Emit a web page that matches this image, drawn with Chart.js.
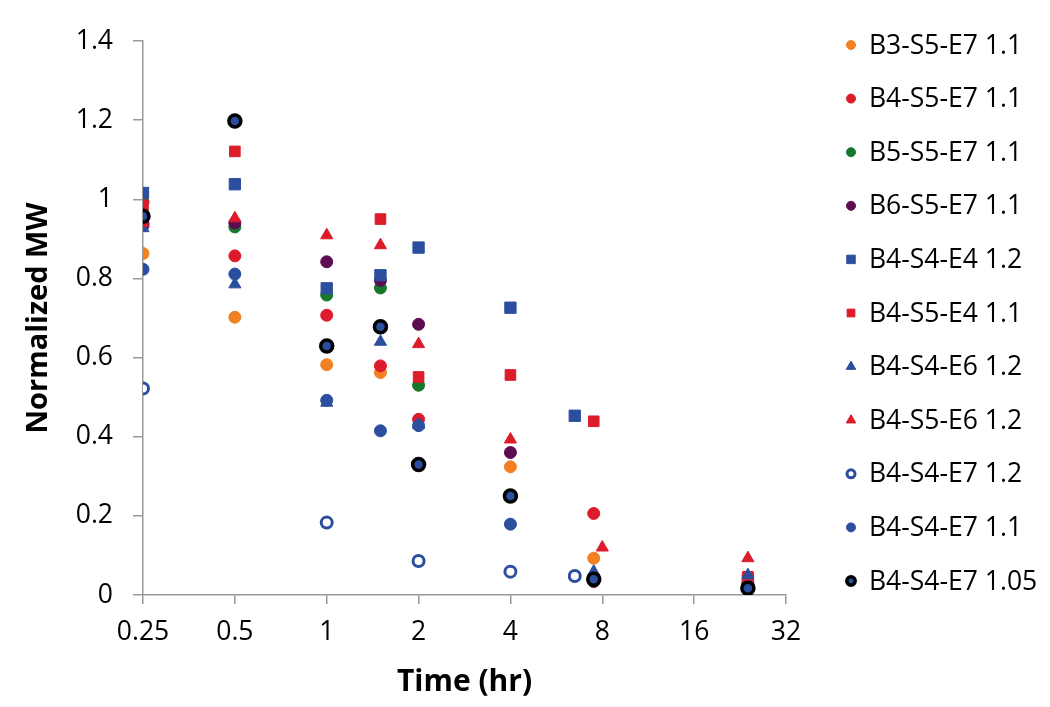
<!DOCTYPE html>
<html>
<head>
<meta charset="utf-8">
<script src="https://cdn.jsdelivr.net/npm/chart.js@4/dist/chart.umd.min.js"></script>
<style>
  html, body { margin: 0; background: #fff; }
  #wrap { width: 1050px; height: 707px; }
</style>
</head>
<body>
<div id="wrap"><canvas id="chart"></canvas></div>
<script>
// Time points (hr); most series share the first list
const timeTicks = [0.25, 0.5, 1, 2, 4, 8, 16, 32]
const times = [0.25, 0.5, 1, 1.5, 2, 4, 7.5, 24]
const timesE4 = [0.25, 0.5, 1, 1.5, 2, 4, 6.5, 24]
const timesE6 = [0.25, 0.5, 1, 1.5, 2, 4, 8, 24]
const timesHollow = [0.25, 1, 2, 4, 6.5]

const seriesNames = [
  'B3-S5-E7 1.1', 'B4-S5-E7 1.1', 'B5-S5-E7 1.1', 'B6-S5-E7 1.1',
  'B4-S4-E4 1.2', 'B4-S5-E4 1.1', 'B4-S4-E6 1.2', 'B4-S5-E6 1.2',
  'B4-S4-E7 1.2', 'B4-S4-E7 1.1', 'B4-S4-E7 1.05'
]

// Normalized MW (null = no point)
const b3s5e7 = [0.863, 0.702, 0.582, 0.562, null, 0.324, 0.093, null]
const b4s5e7 = [0.940, 0.857, 0.707, 0.579, 0.444, null, 0.206, 0.030]
const b5s5e7 = [0.993, 0.930, 0.758, 0.776, 0.530, 0.250, 0.040, 0.025]
const b6s5e7 = [0.934, 0.940, 0.842, 0.795, 0.684, 0.360, 0.034, 0.025]
const b4s4e4 = [1.016, 1.038, 0.775, 0.808, 0.878, 0.726, 0.453, 0.040]
const b4s5e4 = [0.985, 1.121, null, 0.950, 0.551, 0.556, 0.439, 0.046]
const b4s4e6 = [0.927, 0.785, 0.486, 0.640, 0.430, 0.250, 0.059, 0.050]
const b4s5e6 = [0.940, 0.952, 0.909, 0.884, 0.634, 0.393, 0.120, 0.093]
const b4s4e7a = [0.522, 0.183, 0.086, 0.059, 0.048]
const b4s4e7b = [0.823, 0.811, 0.492, 0.415, 0.428, 0.179, 0.045, 0.020]
const b4s4e7c = [0.957, 1.198, 0.629, 0.678, 0.330, 0.250, 0.040, 0.017]

const orange = '#f28123'
const red = '#dc1c2b'
const green = '#17782d'
const purple = '#5e0c52'
const blue = '#2b4f9e'

const fontFamily = '"Open Sans", "Liberation Sans", sans-serif'

function points (xs, ys) {
  const out = []
  xs.forEach((x, i) => {
    if (ys[i] !== null) out.push({ x: x, y: ys[i] })
  })
  return out
}

const seriesData = [
  points(times, b3s5e7), points(times, b4s5e7), points(times, b5s5e7),
  points(times, b6s5e7), points(timesE4, b4s4e4), points(times, b4s5e4),
  points(times, b4s4e6), points(timesE6, b4s5e6), points(timesHollow, b4s4e7a),
  points(times, b4s4e7b), points(times, b4s4e7c)
]

// marker look per series: [style, fill, border, borderWidth, radius, legend radius]
const looks = [
  ['circle', orange, orange, 1, 6, 4.5],
  ['circle', red, red, 1, 6, 4.5],
  ['circle', green, green, 1, 6, 4.5],
  ['circle', purple, purple, 1, 6, 4.5],
  ['rect', blue, blue, 1, 8, 6],
  ['rect', red, red, 1, 7.5, 5.5],
  ['triangle', blue, blue, 1, 7, 5.5],
  ['triangle', red, red, 1, 7, 5.5],
  ['circle', '#ffffff', blue, 3, 5.5, 4],
  ['circle', blue, blue, 1, 6, 4.5],
  ['circle', blue, '#000000', 3.5, 6, 4.2]
]

const datasets = seriesNames.map((name, i) => {
  const l = looks[i]
  return {
    label: name,
    data: seriesData[i],
    showLine: false,
    pointStyle: l[0],
    backgroundColor: l[1],
    borderColor: l[2],
    borderWidth: l[3],
    pointRadius: l[4],
    pointHoverRadius: l[4],
    legendRadius: l[5],
    order: seriesNames.length - i   // later series drawn on top, like the original
  }
})

// legend drawn at the right, one row per series
const sideLegend = {
  id: 'sideLegend',
  afterDraw (chart) {
    const ctx = chart.ctx
    const top = 45
    const step = 53.6
    ctx.save()
    ctx.font = '26.5px ' + fontFamily
    ctx.textBaseline = 'middle'
    ctx.textAlign = 'left'
    chart.data.datasets.forEach((ds, i) => {
      const y = top + i * step
      ctx.fillStyle = ds.backgroundColor
      ctx.strokeStyle = ds.borderColor
      ctx.lineWidth = ds.borderWidth
      Chart.helpers.drawPoint(ctx, {
        pointStyle: ds.pointStyle,
        radius: ds.legendRadius,
        borderWidth: ds.borderWidth,
        rotation: 0
      }, 851, y)
      ctx.fillStyle = '#000'
      ctx.fillText(ds.label, 869, y + 1)
    })
    ctx.restore()
  }
}

const axisColor = '#9a9a9a'

new Chart(document.getElementById('chart'), {
  type: 'scatter',
  data: { datasets: datasets },
  plugins: [sideLegend],
  options: {
    responsive: true,
    maintainAspectRatio: false,
    animation: false,
    events: [],
    layout: { padding: { left: 21, right: 264, top: 41, bottom: 7 } },
    plugins: {
      legend: { display: false },
      tooltip: { enabled: false }
    },
    scales: {
      x: {
        type: 'logarithmic',
        min: 0.25,
        max: 32,
        afterBuildTicks: (scale) => {
          scale.ticks = timeTicks.map(v => ({ value: v }))
        },
        afterFit: (scale) => { scale.height = 105 },
        ticks: {
          autoSkip: false,
          maxRotation: 0,
          padding: 13,
          color: '#000',
          font: { family: fontFamily, size: 26.5 },
          callback: (v) => String(v)
        },
        grid: { drawOnChartArea: false, tickLength: 9, color: axisColor, lineWidth: 1.5 },
        border: { color: axisColor, width: 1.5 },
        title: {
          display: true,
          text: 'Time (hr)',
          color: '#000',
          padding: 0,
          font: { family: fontFamily, size: 30, weight: 'bold' }
        }
      },
      y: {
        min: 0,
        max: 1.4,
        afterFit: (scale) => { scale.width = 122 },
        ticks: {
          stepSize: 0.2,
          padding: 20,
          color: '#000',
          font: { family: fontFamily, size: 26.5 },
          callback: (v) => String(Number(v.toFixed(1)))
        },
        grid: { drawOnChartArea: false, tickLength: 10, color: axisColor, lineWidth: 1.5 },
        border: { color: axisColor, width: 1.5 },
        title: {
          display: true,
          text: 'Normalized MW',
          color: '#000',
          padding: 0,
          font: { family: fontFamily, size: 29, weight: 'bold' }
        }
      }
    }
  }
})
</script>
</body>
</html>
